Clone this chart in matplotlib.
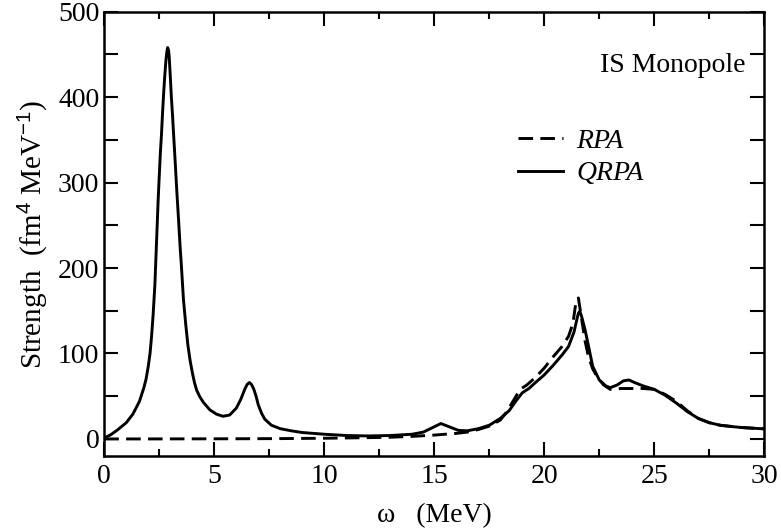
import matplotlib
matplotlib.use("Agg")
import matplotlib.pyplot as plt
from matplotlib.ticker import MultipleLocator

plt.rcParams['font.family'] = ['Liberation Serif', 'DejaVu Serif']
plt.rcParams['mathtext.fontset'] = 'custom'
plt.rcParams['mathtext.rm'] = 'Liberation Serif'
plt.rcParams['mathtext.it'] = 'Liberation Serif:italic'
plt.rcParams['mathtext.sf'] = 'Liberation Sans'

# QRPA strength
qrpa_x = [0, 0.3, 0.6, 1.0, 1.3, 1.6, 1.8, 1.9, 2.0, 2.08, 2.15, 2.22, 2.3, 2.38,
          2.45, 2.5, 2.55, 2.6, 2.65, 2.7, 2.75, 2.8, 2.84, 2.88, 2.92, 2.95,
          3.0, 3.05, 3.1, 3.15, 3.2, 3.25, 3.3, 3.38, 3.45, 3.5, 3.6, 3.7, 3.8,
          3.9, 4.0, 4.1, 4.2, 4.35, 4.5, 4.8, 5.1, 5.4, 5.7, 6.0, 6.2, 6.4, 6.5,
          6.6, 6.7, 6.8, 6.9, 7.0, 7.15, 7.3, 7.6, 8.0, 8.5, 9.0, 10.0, 11.0, 12.0,
          13.0, 14.0, 14.5, 14.9, 15.3, 15.7, 16.1, 16.5, 17.0, 17.5, 18.0, 18.4,
          18.7, 19.0, 19.3, 19.6, 20.0, 20.4, 20.8, 21.1, 21.35, 21.5, 21.55, 21.6,
          21.65, 21.7, 21.85, 22.0, 22.2, 22.5, 22.8, 23.0, 23.3, 23.6, 23.85, 24.1,
          24.5, 25.0, 25.5, 26.0, 26.5, 27.0, 27.5, 28.0, 28.5, 29.0, 29.5, 30.0]
qrpa_y = [1, 5, 10.5, 19, 29, 44, 60, 70, 85, 100, 120, 145, 180, 233,
          280, 308, 335, 356, 382, 405, 425, 442, 452, 458, 455, 448,
          425, 400, 380, 357, 335, 312, 289, 255, 224, 205, 163, 135, 110,
          92, 78, 66, 57, 49, 43, 34, 29, 26.5, 28, 36, 46, 59, 64,
          66, 63.5, 58, 50, 40, 30, 23, 16, 12, 9.5, 7.5, 5.5, 4, 3.5,
          4, 5.5, 8, 13, 18, 14, 10, 9.5, 12, 16, 24, 33,
          44, 54, 59, 66, 75, 86, 98, 108, 125, 142, 147, 149,
          147, 143, 128, 110, 85, 69, 62, 60, 63, 68, 69, 66,
          62, 58, 51, 42, 32, 24, 19, 16, 14.5, 13.3, 12.5, 11.8]

# RPA strength
rpa_x = [0, 2, 4, 6, 8, 10, 12, 13, 14, 15, 16, 16.5, 17, 17.5, 18, 18.3, 18.6,
         18.9, 19.2, 19.6, 20.0, 20.4, 20.8, 21.1, 21.3, 21.45, 21.55, 21.7, 21.85,
         22.0, 22.2, 22.4, 22.7, 23.0, 23.5, 24.0, 24.5, 25.0, 25.5, 26.0, 26.5,
         27.0, 27.5, 28.0, 29.0, 30.0]
rpa_y = [0, 0, 0.1, 0.2, 0.4, 0.8, 1.5, 2, 3, 4.5, 6.5, 8, 11, 15, 22, 32, 45,
         58, 63, 72, 83, 96, 108, 120, 135, 162, 165, 140, 115,
         97, 82, 73, 63, 58, 59, 59, 59, 58, 52, 44, 33,
         24, 19, 16, 13.3, 11.8]

fig = plt.figure(figsize=(7.81, 5.31), dpi=100)
ax = fig.add_axes([0.1335, 0.1412, 0.8451, 0.8368])

FS = 20
ax.plot(rpa_x, rpa_y, color='black', lw=2.1, dashes=(5, 2.5), label='RPA')
ax.plot(qrpa_x, qrpa_y, color='black', lw=2.1, label='QRPA')

ax.set_xlim(0, 30)
ax.set_ylim(-20, 500)
ax.xaxis.set_major_locator(MultipleLocator(5))
ax.xaxis.set_minor_locator(MultipleLocator(2.5))
ax.yaxis.set_major_locator(MultipleLocator(100))
ax.yaxis.set_minor_locator(MultipleLocator(50))
ax.tick_params(axis='both', which='both', direction='in', top=True, right=True,
               width=1.5, labelsize=FS)
ax.tick_params(axis='x', which='major', length=10)
ax.tick_params(axis='x', which='minor', length=5)
ax.tick_params(axis='y', which='both', length=10)
ax.tick_params(axis='x', pad=6)
for s in ax.spines.values():
    s.set_linewidth(1.8)

ax.set_xlabel('ω   (MeV)', fontsize=FS, labelpad=10)
ax.set_ylabel(r'Strength  (fm$^{\mathsf{4}}$ MeV$^{\mathsf{-1}}$)', fontsize=21,
              labelpad=6)

ax.text(0.972, 0.865, 'IS Monopole', transform=ax.transAxes, ha='right',
        va='baseline', fontsize=FS)

leg = ax.legend(loc='center left', bbox_to_anchor=(0.627, 0.672), frameon=False,
                fontsize=FS, handlelength=1.6, handletextpad=0.5,
                labelspacing=0.25, borderpad=0, borderaxespad=0)
for t in leg.get_texts():
    t.set_fontstyle('italic')

fig.savefig('out.png', dpi=100)
